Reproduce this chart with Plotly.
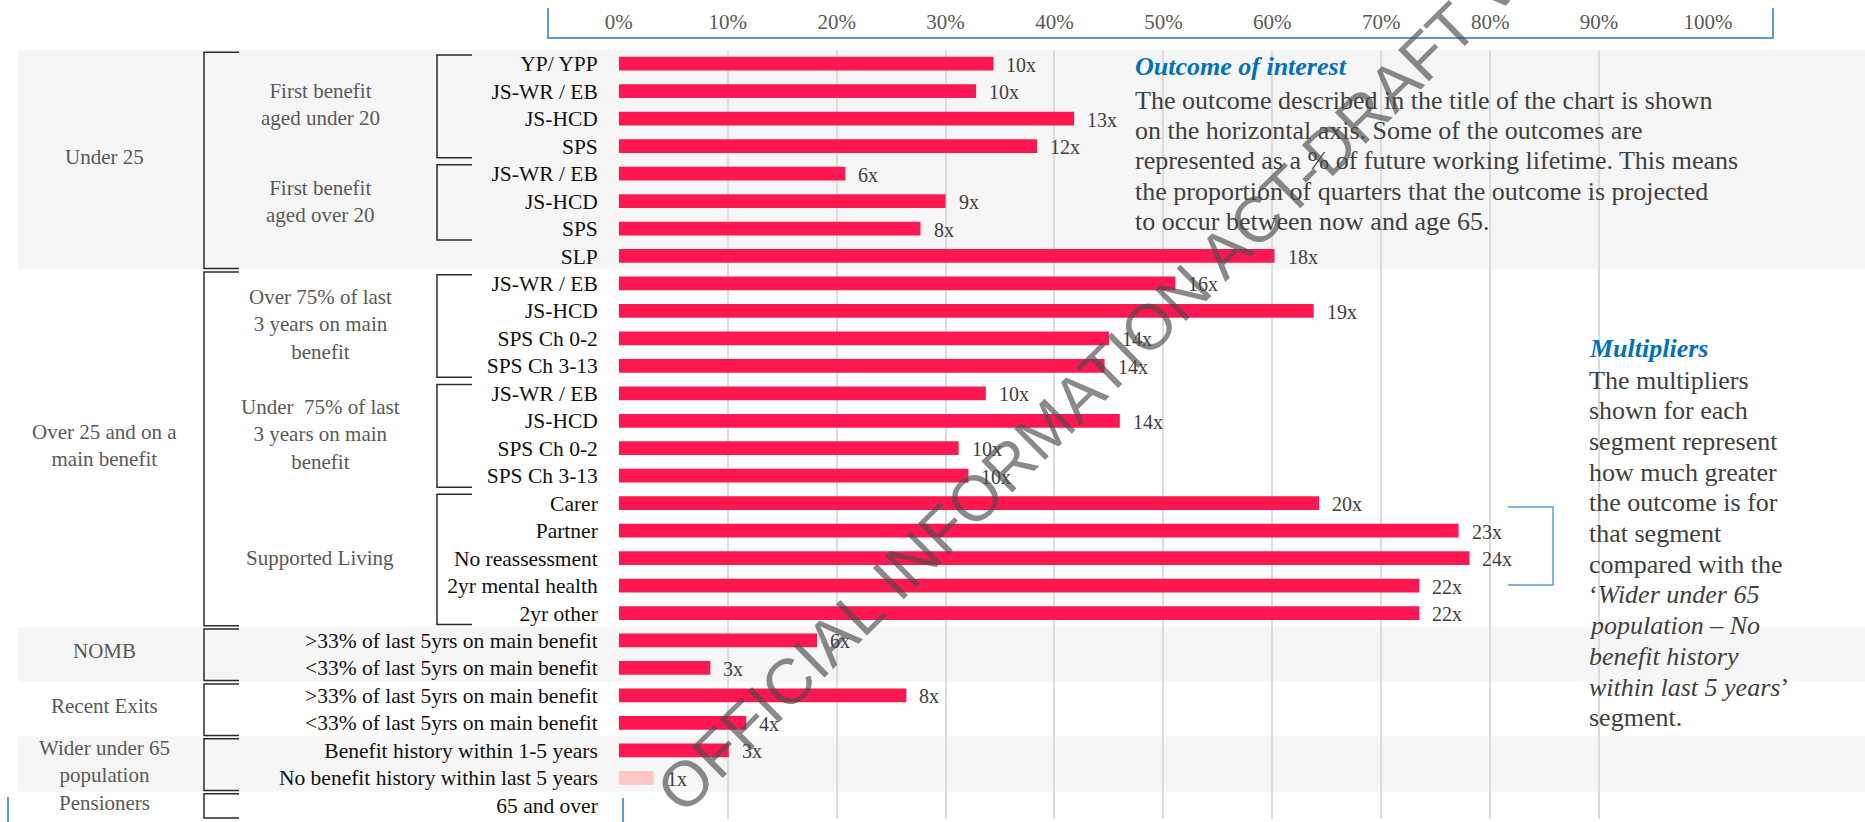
import plotly.graph_objects as go

# ---------------- data ----------------
rows = ["YP/ YPP", "JS-WR / EB", "JS-HCD", "SPS", "JS-WR / EB", "JS-HCD", "SPS", "SLP",
        "JS-WR / EB", "JS-HCD", "SPS Ch 0-2", "SPS Ch 3-13",
        "JS-WR / EB", "JS-HCD", "SPS Ch 0-2", "SPS Ch 3-13",
        "Carer", "Partner", "No reassessment", "2yr mental health", "2yr other",
        "&gt;33% of last 5yrs on main benefit", "&lt;33% of last 5yrs on main benefit",
        "&gt;33% of last 5yrs on main benefit", "&lt;33% of last 5yrs on main benefit",
        "Benefit history within 1-5 years", "No benefit history within last 5 years",
        "65 and over"]
values = [34.4, 32.8, 41.8, 38.4, 20.8, 30.0, 27.7, 60.2,
          51.1, 63.8, 45.0, 44.6,
          33.7, 46.0, 31.2, 32.1,
          64.3, 77.1, 78.1, 73.5, 73.5,
          18.2, 8.4,
          26.4, 11.7,
          10.1, 3.2,
          None]
multipliers = ["10x", "10x", "13x", "12x", "6x", "9x", "8x", "18x",
               "16x", "19x", "14x", "14x",
               "10x", "14x", "10x", "10x",
               "20x", "23x", "24x", "22x", "22x",
               "6x", "3x", "8x", "4x", "3x", "1x", ""]
baseline_row = 26  # 'No benefit history within last 5 years' (the 1x reference segment)

level1_groups = [("Under 25", 0, 7, True),
                 ("Over 25 and on a<br>main benefit", 8, 20, False),
                 ("NOMB", 21, 22, True),
                 ("Recent Exits", 23, 24, False),
                 ("Wider under 65<br>population", 25, 26, True),
                 ("Pensioners", 27, 27, False)]
level2_groups = [("First benefit<br>aged under 20", 0, 3),
                 ("First benefit<br>aged over 20", 4, 6),
                 ("Over 75% of last<br>3 years on main<br>benefit", 8, 11),
                 ("Under  75% of last<br>3 years on main<br>benefit", 12, 15),
                 ("Supported Living", 16, 20)]
x_ticks = [0, 10, 20, 30, 40, 50, 60, 70, 80, 90, 100]

outcome_title = "Outcome of interest"
outcome_lines = ["The outcome described in the title of the chart is shown",
                 "on the horizontal axis. Some of the outcomes are",
                 "represented as a % of future working lifetime. This means",
                 "the proportion of quarters that the outcome is projected",
                 "to occur between now and age 65."]
mult_title = "Multipliers"
mult_lines = ["The multipliers", "shown for each", "segment represent", "how much greater",
              "the outcome is for", "that segment", "compared with the",
              "‘<i>Wider under 65</i>", "<i>population – No</i>", "<i>benefit history</i>",
              "<i>within last 5 years</i>’", "segment."]
watermark = "OFFICIAL INFORMATION ACT-DRAFT VERSION"

# ---------------- layout constants ----------------
W, H = 1865, 822
MT, MB = 50, 3
PLOT_H = H - MT - MB
SERIF = "Liberation Serif, Times New Roman, serif"
BAR = "#FF1752"
BAR_BASE = "#FFC6C6"
BLUE = "#5B9BD5"
TEXT_BLUE = "#0070C0"
GREY_TXT = "#404040"


def px(x):
    return x / W


def py(y):
    return (H - MB - y) / PLOT_H


n = len(rows)
ys = list(range(n))
colors = [BAR_BASE if i == baseline_row else BAR for i in ys]

fig = go.Figure()
fig.add_trace(go.Bar(x=values, y=ys, orientation="h", width=0.5,
                     marker=dict(color=colors, line=dict(width=0)),
                     hoverinfo="skip"))

shapes = []
annotations = []

# background bands for level-1 groups
for name, s, e, shaded in level1_groups:
    if shaded:
        shapes.append(dict(type="rect", xref="paper", yref="y", x0=px(18), x1=1,
                           y0=s - 0.5, y1=e + 0.5, fillcolor="#F6F6F6",
                           line=dict(width=0), layer="below"))

BR = dict(color="#2b2b2b", width=1.5)
# level-1 brackets and labels
for name, s, e, shaded in level1_groups:
    y0, y1 = s - 0.42, e + 0.46
    x0, x1 = px(204), px(239)
    shapes.append(dict(type="path", xref="paper", yref="y",
                       path=f"M {x1} {y0} L {x0} {y0} L {x0} {y1} L {x1} {y1}",
                       line=BR))
    annotations.append(dict(xref="paper", yref="y", x=px(104), y=(s + e) / 2 - 0.1,
                            text=name, showarrow=False, xanchor="center", yanchor="middle",
                            font=dict(family=SERIF, size=21, color="#595959")))
# level-2 brackets and labels
for name, s, e in level2_groups:
    y0, y1 = s - 0.32, e + 0.42
    x0, x1 = px(437), px(472)
    shapes.append(dict(type="path", xref="paper", yref="y",
                       path=f"M {x1} {y0} L {x0} {y0} L {x0} {y1} L {x1} {y1}",
                       line=BR))
    annotations.append(dict(xref="paper", yref="y", x=px(320), y=(s + e) / 2,
                            text=name, showarrow=False, xanchor="center", yanchor="middle",
                            font=dict(family=SERIF, size=21, color="#595959")))

# multiplier labels
for i, (v, m) in enumerate(zip(values, multipliers)):
    if v is None or not m:
        continue
    annotations.append(dict(x=v, y=i, xref="x", yref="y", text=m, showarrow=False,
                            xanchor="left", yanchor="middle", xshift=11, yshift=-1,
                            font=dict(family=SERIF, size=20, color=GREY_TXT)))

# blue decorative lines
BL = dict(color=BLUE, width=2)
shapes.append(dict(type="path", xref="paper", yref="paper",
                   path=f"M {px(548)} {py(8)} L {px(548)} {py(38)} L {px(1773)} {py(38)} L {px(1773)} {py(8)}",
                   line=BL))
shapes.append(dict(type="line", xref="paper", yref="paper", x0=px(8), x1=px(8),
                   y0=py(797), y1=py(824), line=BL))
shapes.append(dict(type="line", xref="paper", yref="paper", x0=px(623), x1=px(623),
                   y0=py(798), y1=py(824), line=BL))
shapes.append(dict(type="path", xref="paper", yref="paper",
                   path=f"M {px(1508)} {py(507)} L {px(1553)} {py(507)} L {px(1553)} {py(585)} L {px(1508)} {py(585)}",
                   line=dict(color=BLUE, width=1.5)))

# text boxes
annotations.append(dict(xref="paper", yref="paper", x=px(1133), y=py(67),
                        text=f"<b><i>{outcome_title}</i></b>", showarrow=False,
                        xanchor="left", yanchor="middle",
                        font=dict(family=SERIF, size=26, color=TEXT_BLUE)))
for k, line in enumerate(outcome_lines):
    annotations.append(dict(xref="paper", yref="paper", x=px(1133), y=py(100 + 30.4 * k),
                            text=line, showarrow=False, xanchor="left", yanchor="middle",
                            font=dict(family=SERIF, size=26, color=GREY_TXT)))
annotations.append(dict(xref="paper", yref="paper", x=px(1587), y=py(348),
                        text=f"<b><i>{mult_title}</i></b>", showarrow=False,
                        xanchor="left", yanchor="middle",
                        font=dict(family=SERIF, size=26, color=TEXT_BLUE)))
for k, line in enumerate(mult_lines):
    annotations.append(dict(xref="paper", yref="paper", x=px(1587), y=py(380 + 30.7 * k),
                            text=line, showarrow=False, xanchor="left", yanchor="middle",
                            font=dict(family=SERIF, size=26, color=GREY_TXT)))

# watermark
annotations.append(dict(xref="paper", yref="paper", x=px(1175), y=py(301),
                        text=watermark, showarrow=False, textangle=-44.6,
                        xanchor="center", yanchor="middle",
                        font=dict(family="Liberation Sans, Arial, sans-serif", size=64,
                                  color="rgba(75,75,75,0.65)")))

fig.update_layout(
    width=W, height=H, autosize=False,
    margin=dict(l=0, r=0, t=MT, b=MB, pad=0, autoexpand=False),
    paper_bgcolor="white", plot_bgcolor="rgba(0,0,0,0)",
    showlegend=False, bargap=0.5,
    shapes=shapes, annotations=annotations,
    xaxis=dict(domain=[618.8 / W, 1708 / W], range=[0, 100], side="top",
               tickvals=x_ticks, ticktext=[f"{t}%" for t in x_ticks],
               showgrid=True, gridcolor="#DCDCDC", gridwidth=1.5, zeroline=False,
               showline=False, ticks="", ticklabelstandoff=16, automargin=False,
               tickfont=dict(family=SERIF, size=21, color="#595959"), fixedrange=True),
    yaxis=dict(range=[n - 0.5, -0.5], tickvals=ys, ticktext=rows,
               showgrid=False, zeroline=False, showline=False, ticks="",
               ticklabelstandoff=20, automargin=False,
               tickfont=dict(family=SERIF, size=21.5, color="#111111"), fixedrange=True),
)

fig.write_html("out.html", config={"displayModeBar": False},
               post_script="document.body.style.margin='0';document.body.style.overflow='hidden';")
